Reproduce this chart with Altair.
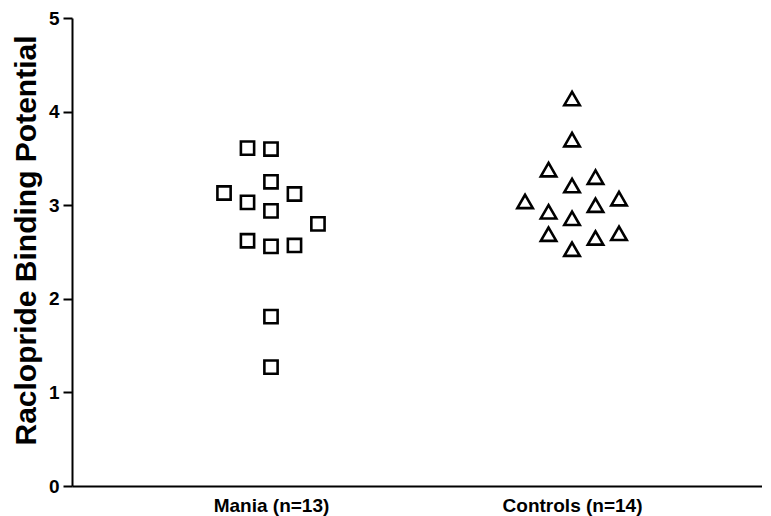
import altair as alt
import pandas as pd

# Mania group (squares): value and swarm column (-2..2)
mania_values = [3.61, 3.60, 3.25, 3.13, 3.12, 3.03, 2.94, 2.80, 2.62, 2.56, 2.57, 1.81, 1.27]
mania_cols   = [-1, 0, 0, -2, 1, -1, 0, 2, -1, 0, 1, 0, 0]

# Controls group (triangles)
control_values = [4.14, 3.70, 3.38, 3.30, 3.21, 3.04, 3.07, 3.00, 2.93, 2.86, 2.69, 2.70, 2.65, 2.53]
control_cols   = [0, 0, -1, 1, 0, -2, 2, 1, -1, 0, -1, 2, 1, 0]

groups = ["Mania (n=13)", "Controls (n=14)"]
y_ticks = [0, 1, 2, 3, 4, 5]

STEP = 0.078
rows = []
for v, c in zip(mania_values, mania_cols):
    rows.append({"group": groups[0], "gi": 0, "col": c, "value": v})
for v, c in zip(control_values, control_cols):
    rows.append({"group": groups[1], "gi": 1, "col": c, "value": v})
df = pd.DataFrame(rows)

base = alt.Chart(df).transform_calculate(
    xpos=f"datum.gi + datum.col * {STEP}"
)

x_enc = alt.X(
    "xpos:Q",
    scale=alt.Scale(domain=[-0.661, 1.631], nice=False, zero=False),
    axis=alt.Axis(
        values=[0, 1],
        labelExpr="datum.value == 0 ? 'Mania (n=13)' : 'Controls (n=14)'",
        ticks=False,
        grid=False,
        title=None,
        domainColor="black",
        domainWidth=2,
        labelFont="Liberation Sans",
        labelFontWeight="bold",
        labelFontSize=19,
        labelColor="black",
        labelPadding=10,
    ),
)

y_enc = alt.Y(
    "value:Q",
    scale=alt.Scale(domain=[0, 5], nice=False),
    axis=alt.Axis(
        values=y_ticks,
        format="d",
        title="Raclopride Binding Potential",
        titleFont="Liberation Sans",
        titleFontWeight="bold",
        titleFontSize=30,
        titleColor="black",
        titleY=222,
        titleX=-31,
        grid=False,
        domainColor="black",
        domainWidth=2,
        tickColor="black",
        tickWidth=2,
        tickSize=9,
        labelFont="Liberation Sans",
        labelFontWeight="bold",
        labelFontSize=19,
        labelColor="black",
        labelPadding=4,
    ),
)

squares = base.transform_filter("datum.gi == 0").mark_point(
    shape="square", size=175, filled=False, stroke="black", strokeWidth=2.6, opacity=1
).encode(x=x_enc, y=y_enc)

triangles = base.transform_filter("datum.gi == 1").mark_point(
    shape="triangle-up", size=240, filled=False, stroke="black", strokeWidth=2.6, opacity=1
).encode(x=x_enc, y=y_enc)

chart = alt.layer(squares, triangles).properties(
    width=690,
    height=468,
    background="white",
    autosize=alt.AutoSizeParams(type="none"),
    padding={"left": 64, "top": 10, "right": 0, "bottom": 30},
).configure_view(stroke=None)

chart.save("out.html", embed_options={"renderer": "svg", "actions": False})
